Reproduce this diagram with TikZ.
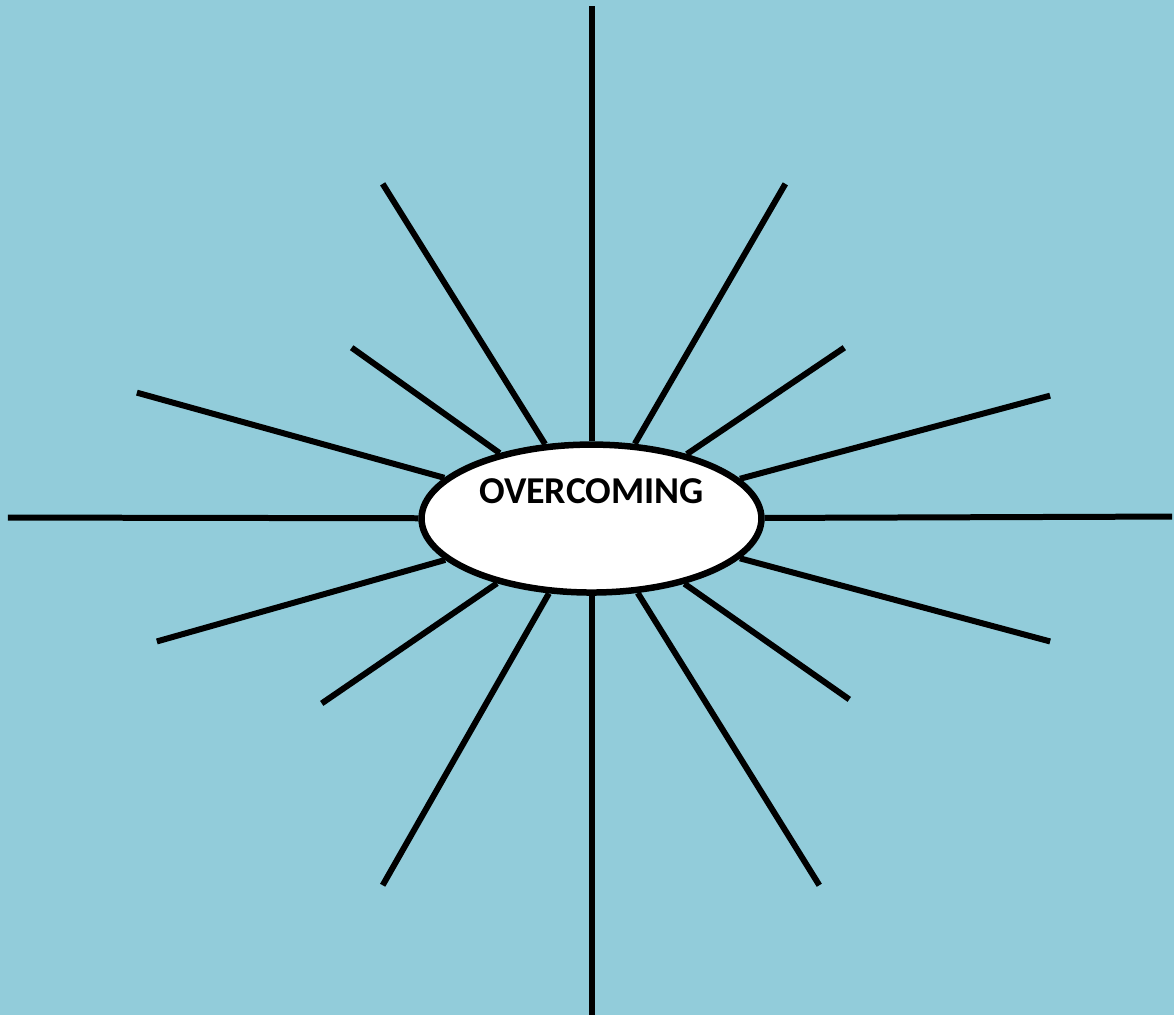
\documentclass[tikz,border=0pt]{standalone}
\usepackage{fontspec}
\setmainfont{Carlito}
\usetikzlibrary{shapes.geometric}
\definecolor{skyback}{HTML}{92CCDA}
\tikzset{ray/.style={line width=0.06cm, black}}
\begin{document}
\begin{tikzpicture}[x=0.01cm,y=-0.01cm]
        % background
        \fill[skyback] (0,0) rectangle (1175,1016);
        % centre
        \node[ellipse, draw, line width=0.065cm, fill=white, minimum width=3.4cm, minimum height=1.48cm, inner sep=0pt,
              label={[yshift=0.27cm, font=\fontsize{10.8}{13}\selectfont\bfseries]center:OVERCOMING}] (ov) at (592,519) {};
        % ends
        \coordinate (n) at (592,6);\coordinate (s) at (592,1016);
        \coordinate (w) at (8,518);\coordinate (e) at (1173,517);
        \coordinate (nnw) at (383,184);\coordinate (nne) at (786,184);
        \coordinate (nw) at (352,348);\coordinate (ne) at (845,348);
        \coordinate (wnw) at (137,393);\coordinate (ene) at (1051,396);
        \coordinate (wsw) at (157,642);\coordinate (ese) at (1051,642);
        \coordinate (sw) at (322,704);\coordinate (se) at (850,700);
        \coordinate (ssw) at (383,886);\coordinate (sse) at (820,886);
        % rays
        \draw[ray] (ov) -- (n);\draw[ray] (ov) -- (s);
        \draw[ray] (ov) -- (w);\draw[ray] (ov) -- (e);
        \draw[ray] (ov) -- (nnw);\draw[ray] (ov) -- (nne);
        \draw[ray] (ov) -- (nw);\draw[ray] (ov) -- (ne);
        \draw[ray] (ov) -- (wnw);\draw[ray] (ov) -- (ene);
        \draw[ray] (ov) -- (wsw);\draw[ray] (ov) -- (ese);
        \draw[ray] (ov) -- (sw);\draw[ray] (ov) -- (se);
        \draw[ray] (ov) -- (ssw);\draw[ray] (ov) -- (sse);
\end{tikzpicture}
\end{document}
